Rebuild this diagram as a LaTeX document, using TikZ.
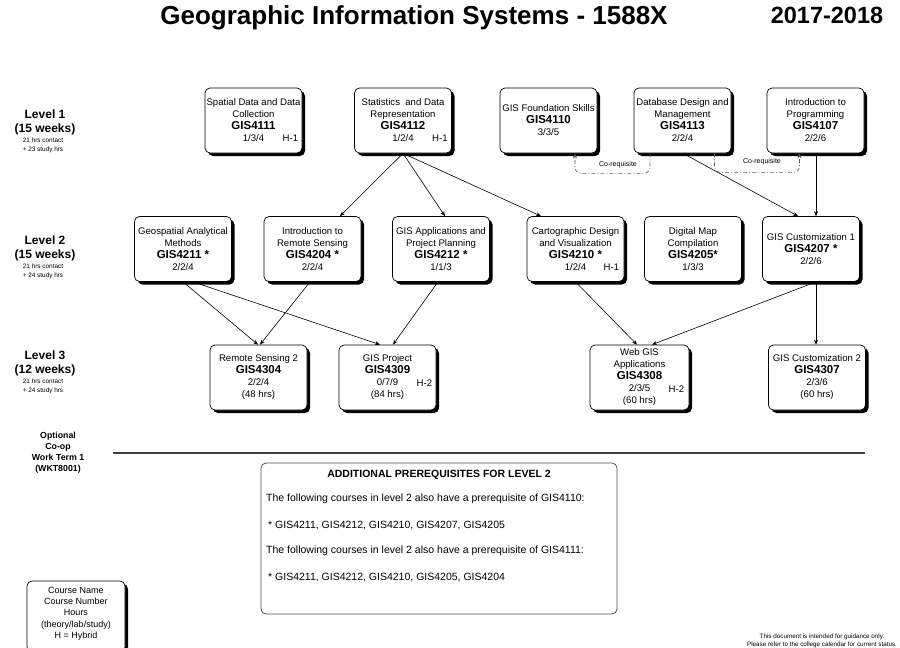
\documentclass[tikz,border=0pt]{standalone}
\usepackage{fontspec}
\setmainfont{Liberation Sans}
\usetikzlibrary{shadows,arrows.meta,calc}
\newcommand\cnum[1]{{\fontsize{11.5}{12}\selectfont\bfseries #1}}
\begin{document}
\begin{tikzpicture}[x=1pt,y=-1pt,
  course/.style={draw, rounded corners=5pt, fill=white, minimum width=97pt, minimum height=65pt,
    align=center, inner sep=1pt, font=\fontsize{9.6}{12}\selectfont, line width=0.7pt,
    drop shadow={shadow xshift=3pt, shadow yshift=-3pt, opacity=1, fill=black}},
  tag/.style={inner sep=0pt, font=\fontsize{9.6}{12}\selectfont},
  prereq/.style={-{Stealth[length=5pt,width=4pt]}, line width=0.6pt},
  coreq/.style={-{Stealth[length=5pt,width=4pt]}, gray!70!black, line width=0.6pt,
    dash pattern=on 4pt off 2pt on 1pt off 2pt, rounded corners=6pt},
  lvl/.style={align=center, inner sep=0pt, font=\fontsize{12}{14}\selectfont\bfseries},
  lvlsmall/.style={align=center, inner sep=0pt, font=\fontsize{6.4}{9}\selectfont},
  body/.style={anchor=west, inner sep=0pt, font=\fontsize{10.5}{12}\selectfont},
]
\useasboundingbox (0,0) rectangle (900,648);

% titles
\node[font=\fontsize{26}{30}\selectfont\bfseries, inner sep=0pt] (title) at (414,18) {Geographic Information Systems - 1588X};
\node[font=\fontsize{23.5}{28}\selectfont\bfseries, inner sep=0pt] (year) at (827,15) {2017-2018};

% level labels
\node[lvl] (l1) at (45,122) {Level 1\\(15 weeks)};
\node[lvlsmall] (l1s) at (43,145.5) {21 hrs contact\\+ 23 study hrs};
\node[lvl] (l2) at (45,248) {Level 2\\(15 weeks)};
\node[lvlsmall] (l2s) at (43,271.5) {21 hrs contact\\+ 24 study hrs};
\node[lvl] (l3) at (45,363) {Level 3\\(12 weeks)};
\node[lvlsmall] (l3s) at (43,386.5) {21 hrs contact\\+ 24 study hrs};
\node[align=center, inner sep=0pt, font=\fontsize{8.8}{11}\selectfont\bfseries] (coop) at (58,452.5) {Optional\\Co-op\\Work Term 1\\(WKT8001)};

% level 1
\node[course] (b4111) at (253.5,120.5) {Spatial Data and Data\\Collection\\\cnum{GIS4111}\\1/3/4};
\node[course] (b4112) at (403,120.5) {Statistics\ \ and Data\\Representation\\\cnum{GIS4112}\\1/2/4};
\node[course] (b4110) at (548.5,120.5) {GIS Foundation Skills\\\cnum{GIS4110}\\3/3/5};
\node[course] (b4113) at (682.5,120.5) {Database Design and\\Management\\\cnum{GIS4113}\\2/2/4};
\node[course] (b4107) at (815.5,120.5) {Introduction to\\Programming\\\cnum{GIS4107}\\2/2/6};

% level 2
\node[course] (b4211) at (183,249) {Geospatial Analytical\\Methods\\\cnum{GIS4211 *}\\2/2/4};
\node[course] (b4204) at (312.5,249) {Introduction to\\Remote Sensing\\\cnum{GIS4204 *}\\2/2/4};
\node[course] (b4212) at (441,249) {GIS Applications and\\Project Planning\\\cnum{GIS4212 *}\\1/1/3};
\node[course] (b4210) at (575.5,249) {Cartographic Design\\and Visualization\\\cnum{GIS4210 *}\\1/2/4};
\node[course] (b4205) at (693,249) {Digital Map\\Compilation\\\cnum{GIS4205*}\\1/3/3};
\node[course] (b4207) at (811,249) {GIS Customization 1\\\cnum{GIS4207 *}\\2/2/6};

% level 3
\node[course] (b4304) at (258.5,377.5) {Remote Sensing 2\\\cnum{GIS4304}\\2/2/4\\(48 hrs)};
\node[course] (b4309) at (387.5,377.5) {GIS Project\\\cnum{GIS4309}\\0/7/9\\(84 hrs)};
\node[course, minimum width=99pt] (b4308) at (639.5,377.5) {Web GIS\\Applications\\\cnum{GIS4308}\\2/3/5\\(60 hrs)};
\node[course] (b4307) at (817,377.5) {GIS Customization 2\\\cnum{GIS4307}\\2/3/6\\(60 hrs)};

% hybrid tags
\node[tag, anchor=east] (t4111) at ($(b4111.south east)+(-4,-15)$) {H-1};
\node[tag, anchor=east] (t4112) at ($(b4112.south east)+(-4,-15)$) {H-1};
\node[tag, anchor=east] (t4210) at ($(b4210.south east)+(-5,-15)$) {H-1};
\node[tag, anchor=east] (t4309) at ($(b4309.south east)+(-4,-27)$) {H-2};
\node[tag, anchor=east] (t4308) at ($(b4308.south east)+(-5,-21)$) {H-2};

% prerequisites level 1 -> 2
\draw[prereq] (b4112.south) -- ([xshift=27.5pt]b4204.north);
\draw[prereq] (b4112.south) -- ([xshift=4pt]b4212.north);
\draw[prereq] (b4112.south) -- ([xshift=-34.5pt]b4210.north);
\draw[prereq] ([xshift=0.5pt]b4113.south) -- ([xshift=-13pt]b4207.north);
\draw[prereq] ([xshift=0.5pt]b4107.south) -- ([xshift=5pt]b4207.north);

% co-requisites
\draw[coreq] ([xshift=-32.5pt]b4113.south) -- ++(0,20) -| ([xshift=26.5pt]b4110.south);
\node[font=\fontsize{7}{8}\selectfont, inner sep=0pt] (cr1) at (618,165) {Co-requisite};
\draw[coreq] ([xshift=32pt]b4113.south) -- ++(0,19) -| ([xshift=-16pt]b4107.south);
\node[font=\fontsize{7}{8}\selectfont, inner sep=0pt] (cr2) at (762,162) {Co-requisite};

% prerequisites level 2 -> 3
\draw[prereq] (b4211.south) -- ([xshift=-0.5pt]b4304.north);
\draw[prereq] ([xshift=10pt]b4211.south) -- ([xshift=-7.5pt]b4309.north);
\draw[prereq] ([xshift=-2.5pt]b4204.south) -- ([xshift=1.5pt]b4304.north);
\draw[prereq] ([xshift=-3pt]b4212.south) -- ([xshift=5.5pt]b4309.north);
\draw[prereq] (b4210.south) -- ([xshift=-2.5pt]b4308.north);
\draw[prereq] ([xshift=5pt]b4207.south) -- ([xshift=12.5pt]b4308.north);
\draw[prereq] ([xshift=5pt]b4207.south) -- ([xshift=-1pt]b4307.north);

% separator
\coordinate (sepA) at (113,453);
\coordinate (sepB) at (865,453);
\draw[line width=2pt, black!75] (sepA) -- (sepB);

% additional prerequisites box
\node[draw, black!70, rounded corners=5pt, minimum width=356pt, minimum height=151pt, line width=0.8pt] (addbox) at (439,538.5) {};
\node[inner sep=0pt, font=\fontsize{10.5}{12}\selectfont\bfseries] (addtitle) at (439,475) {ADDITIONAL PREREQUISITES FOR LEVEL 2};
\node[body] (add1) at (266,499) {The following courses in level 2 also have a prerequisite of GIS4110:};
\node[body] (add2) at (268,525) {* GIS4211, GIS4212, GIS4210, GIS4207, GIS4205};
\node[body] (add3) at (266,551) {The following courses in level 2 also have a prerequisite of GIS4111:};
\node[body] (add4) at (268,577) {* GIS4211, GIS4212, GIS4210, GIS4205, GIS4204};

% legend
\node[draw, rounded corners=5pt, fill=white, minimum width=98pt, minimum height=71pt, inner sep=0pt, line width=0.7pt,
  drop shadow={shadow xshift=3pt, shadow yshift=-3pt, opacity=1, fill=black}] (legend) at (76,616.5) {};
\node[align=center, inner sep=0pt, font=\fontsize{9}{11.3}\selectfont] (legendtext) at (76,613.5) {Course Name\\Course Number\\Hours\\(theory/lab/study)\\H = Hybrid};

% footer
\node[align=center, inner sep=0pt, font=\fontsize{6.3}{8}\selectfont] (footer) at (822,641) {This document is intended for guidance only.\\Please refer to the college calendar for current status.};
\end{tikzpicture}
\end{document}
